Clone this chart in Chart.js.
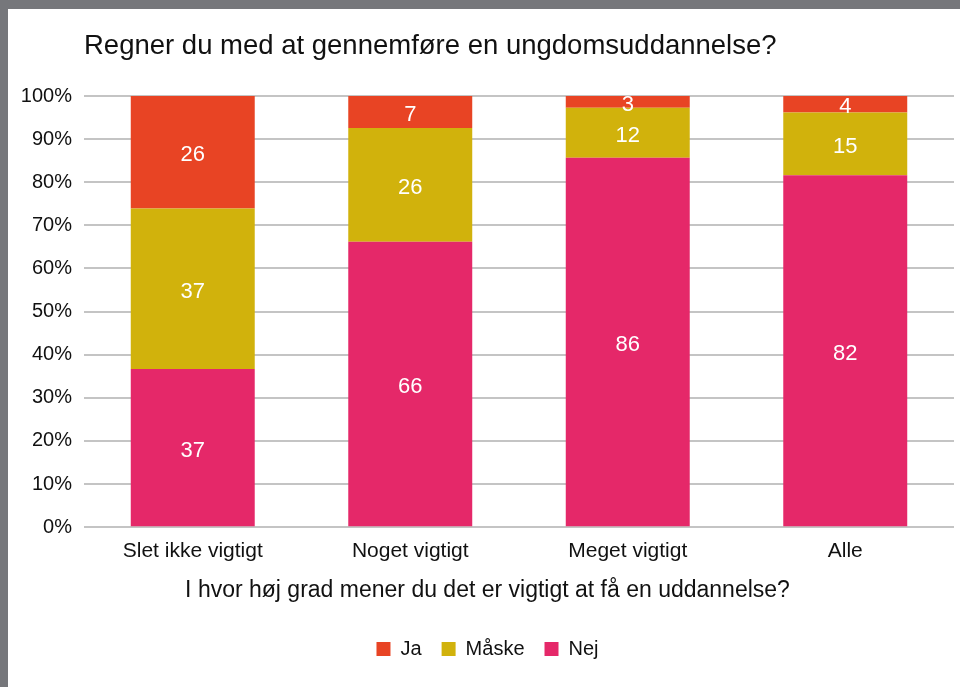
<!DOCTYPE html>
<html>
<head>
<meta charset="utf-8">
<script src="https://cdn.jsdelivr.net/npm/chart.js@4"></script>
<style>
    body { margin: 0; background: #76777b; overflow: hidden; width: 960px; height: 687px; }
    #box { position: absolute; left: 8px; top: 9px; width: 966px; height: 678px; background: #ffffff; }
</style>
</head>
<body>
<div id="box"><canvas id="chart"></canvas></div>
<script>
let categories = ["Slet ikke vigtigt", "Noget vigtigt", "Meget vigtigt", "Alle"]
let nejValues = [36.7, 66.2, 85.7, 81.6]
let maaskeValues = [37.2, 26.4, 11.6, 14.6]
let jaValues = [26.1, 7.4, 2.7, 3.8]
let seriesNames = ["Nej", "Måske", "Ja"]
let seriesColors = ["#e52869", "#d1b20c", "#e84424"]

let fontName = "'Liberation Sans', Arial, Helvetica, sans-serif"

// white numbers in the middle of every bar piece
let barLabels = {
    id: "barLabels",
    afterDatasetsDraw(chart) {
        let ctx = chart.ctx
        ctx.save()
        ctx.fillStyle = "#ffffff"
        ctx.font = "22px " + fontName
        ctx.textAlign = "center"
        ctx.textBaseline = "middle"
        chart.data.datasets.forEach((ds, i) => {
            chart.getDatasetMeta(i).data.forEach((bar, j) => {
                ctx.fillText(Math.round(ds.data[j]), bar.x, (bar.y + bar.base) / 2 + 3)
            })
        })
        ctx.restore()
    }
}

let values = [nejValues, maaskeValues, jaValues]
let datasets = []
for (let i = 0; i < values.length; i++) {
    datasets.push({
        label: seriesNames[i],
        data: values[i],
        backgroundColor: seriesColors[i],
        borderWidth: 0,
        barPercentage: 0.57,
        categoryPercentage: 1
    })
}

new Chart(document.getElementById("chart"), {
    type: "bar",
    data: {labels: categories, datasets: datasets},
    plugins: [barLabels],
    options: {
        responsive: true,
        maintainAspectRatio: false,
        animation: false,
        layout: {padding: {left: 13, right: 20, top: 0, bottom: 18}},
        scales: {
            x: {
                stacked: true,
                grid: {display: false},
                border: {display: false},
                ticks: {color: "#111111", padding: 3, font: {size: 21, family: fontName}}
            },
            y: {
                stacked: true,
                min: 0,
                max: 100,
                afterFit: function (scale) { scale.width = 63 },
                grid: {color: "#c4c4c4", lineWidth: 2, drawTicks: false},
                border: {display: false},
                ticks: {
                    stepSize: 10,
                    color: "#111111",
                    padding: 12,
                    font: {size: 20, family: fontName},
                    callback: v => v + "%"
                }
            }
        },
        plugins: {
            title: {
                display: true,
                text: "Regner du med at gennemføre en ungdomsuddannelse?",
                align: "start",
                fullSize: false,
                color: "#111111",
                font: {size: 27.5, weight: "normal", family: fontName},
                padding: {top: 21, bottom: 33}
            },
            subtitle: {
                display: true,
                text: "I hvor høj grad mener du det er vigtigt at få en uddannelse?",
                position: "bottom",
                weight: 500,
                color: "#111111",
                font: {size: 23, family: fontName},
                padding: {top: 10, bottom: 15}
            },
            legend: {
                position: "bottom",
                reverse: true,
                labels: {
                    boxWidth: 14,
                    boxHeight: 14,
                    padding: 20,
                    color: "#111111",
                    font: {size: 20, family: fontName}
                }
            },
            tooltip: {enabled: false}
        }
    }
})
</script>
</body>
</html>
